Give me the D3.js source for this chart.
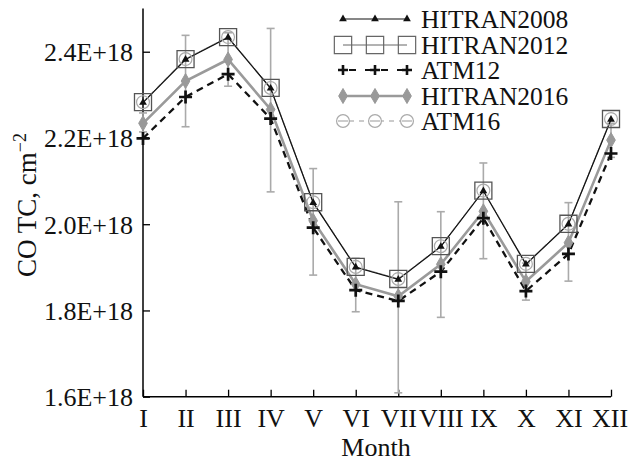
<!DOCTYPE html>
<html><head><meta charset="utf-8">
<script src="https://cdn.jsdelivr.net/npm/d3@7"></script>
<style>
html,body{margin:0;padding:0;background:#fff;}
svg{display:block;font-family:"Liberation Serif","Times New Roman",serif;}
</style></head>
<body>
<svg id="chart" width="628" height="463"></svg>
<script>
const months = ["I","II","III","IV","V","VI","VII","VIII","IX","X","XI","XII"];
const hitran2008 = [2.282, 2.382, 2.433, 2.315, 2.050, 1.900, 1.872, 1.948, 2.077, 1.907, 2.000, 2.243];
const hitran2012 = [2.283, 2.383, 2.434, 2.316, 2.051, 1.901, 1.873, 1.949, 2.078, 1.908, 2.001, 2.244];
const atm12      = [2.199, 2.295, 2.348, 2.245, 1.992, 1.847, 1.822, 1.890, 2.014, 1.845, 1.931, 2.164];
const hitran2016 = [2.234, 2.332, 2.382, 2.266, 2.008, 1.861, 1.833, 1.907, 2.030, 1.867, 1.957, 2.195];
const atm16      = [2.283, 2.383, 2.434, 2.316, 2.051, 1.901, 1.873, 1.949, 2.078, 1.908, 2.001, 2.244];
const errLow  = [2.214, 2.226, 2.320, 2.075, 1.882, 1.797, 1.609, 1.784, 1.920, 1.824, 1.868, 2.155];
const errHigh = [2.258, 2.438, 2.444, 2.454, 2.129, 1.921, 2.052, 2.029, 2.142, 1.910, 2.050, 2.234];
const yTicks = [1.6, 1.8, 2.0, 2.2, 2.4];
const yTickLabels = ["1.6E+18","1.8E+18","2.0E+18","2.2E+18","2.4E+18"];
const seriesNames = ["HITRAN2008","HITRAN2012","ATM12","HITRAN2016","ATM16"];

const svg = d3.select("#chart");
const x = d3.scalePoint().domain(months).range([143, 611]).padding(0);
const y = d3.scaleLinear().domain([1.6, 2.5]).range([396.7, 8.6]);
const FS = 26;

// axes
const yAxis = d3.axisLeft(y).tickValues(yTicks).tickSize(-7).tickPadding(10)
  .tickFormat((d,i)=>yTickLabels[i]);
const gy = svg.append("g").attr("transform","translate(143,0)").call(yAxis);
gy.select(".domain").attr("d","M0,"+y(2.5)+"V"+y(1.6)).attr("stroke","#000").attr("stroke-width",1.5);
gy.selectAll(".tick line").attr("stroke","#000").attr("stroke-width",1.3);
gy.selectAll(".tick text").attr("font-size",FS).attr("fill","#111").attr("font-family","Liberation Serif").attr("dy","0.34em");

const xAxis = d3.axisBottom(x).tickSize(-7).tickPadding(17);
const gx = svg.append("g").attr("transform","translate(0,396.7)").call(xAxis);
gx.select(".domain").attr("d","M143,0H611").attr("stroke","#000").attr("stroke-width",1.5);
gx.selectAll(".tick line").attr("stroke","#000").attr("stroke-width",1.3);
gx.selectAll(".tick text").attr("font-size",FS).attr("fill","#111").attr("font-family","Liberation Serif").attr("dy","0.5em")
  .attr("dx",d=>d==="XII"?-1.5:0);

svg.append("text").attr("x",376).attr("y",456).attr("text-anchor","middle")
  .attr("font-size",FS).attr("fill","#111").text("Month");
const yl = svg.append("text").attr("transform","translate(36,205) rotate(-90)")
  .attr("text-anchor","middle").attr("font-size",FS+1).attr("fill","#111");
yl.append("tspan").text("CO TC, cm");
yl.append("tspan").attr("dy",-10).attr("font-size",18).text("\u22122");

const plot = svg.append("g");
// error bars
months.forEach((m,i)=>{
  const g = plot.append("g").attr("stroke","#aaa").attr("stroke-width",1.6);
  g.append("line").attr("x1",x(m)).attr("x2",x(m)).attr("y1",y(errLow[i])).attr("y2",y(errHigh[i]));
  g.append("line").attr("x1",x(m)-4).attr("x2",x(m)+4).attr("y1",y(errLow[i])).attr("y2",y(errLow[i]));
  g.append("line").attr("x1",x(m)-4).attr("x2",x(m)+4).attr("y1",y(errHigh[i])).attr("y2",y(errHigh[i]));
});

const line = d3.line().x((d,i)=>x(months[i])).y(d=>y(d));
plot.append("path").attr("d",line(hitran2012)).attr("fill","none").attr("stroke","#666").attr("stroke-width",1);
plot.append("path").attr("d",line(atm16)).attr("fill","none").attr("stroke","#bbb").attr("stroke-width",1.5).attr("stroke-dasharray","5,5");
plot.append("path").attr("d",line(hitran2016)).attr("fill","none").attr("stroke","#9a9a9a").attr("stroke-width",2.6);
plot.append("path").attr("d",line(atm12)).attr("fill","none").attr("stroke","#111").attr("stroke-width",2.3).attr("stroke-dasharray","7,5");
plot.append("path").attr("d",line(hitran2008)).attr("fill","none").attr("stroke","#111").attr("stroke-width",1.2);

const sym = {
  square: d3.symbol().type(d3.symbolSquare).size(290)(),
  circle: d3.symbol().type(d3.symbolCircle).size(130)(),
  diamond: d3.symbol().type(d3.symbolDiamond).size(65)(),
  plus: "M-6.5,0H6.5M0,-6.5V6.5",
  tri: d3.symbol().type(d3.symbolTriangle).size(26)()
};
function drawMarkers(g, cx, cy, kind){
  if(kind==="square") g.append("path").attr("d",sym.square).attr("transform",`translate(${cx},${cy})`).attr("fill","none").attr("stroke","#555").attr("stroke-width",1.3);
  if(kind==="circle") g.append("path").attr("d",sym.circle).attr("transform",`translate(${cx},${cy})`).attr("fill","none").attr("stroke","#aaa").attr("stroke-width",1.2);
  if(kind==="diamond") g.append("path").attr("d",sym.diamond).attr("transform",`translate(${cx},${cy})`).attr("fill","#999").attr("stroke","#999");
  if(kind==="plus") g.append("path").attr("d",sym.plus).attr("transform",`translate(${cx},${cy})`).attr("stroke","#111").attr("stroke-width",2.7);
  if(kind==="tri") g.append("path").attr("d",sym.tri).attr("transform",`translate(${cx},${cy})`).attr("fill","#111");
}
const mk = plot.append("g");
hitran2012.forEach((v,i)=>drawMarkers(mk, x(months[i]), y(v), "square"));
atm16.forEach((v,i)=>drawMarkers(mk, x(months[i]), y(v), "circle"));
hitran2016.forEach((v,i)=>drawMarkers(mk, x(months[i]), y(v), "diamond"));
atm12.forEach((v,i)=>drawMarkers(mk, x(months[i]), y(v), "plus"));
hitran2008.forEach((v,i)=>drawMarkers(mk, x(months[i]), y(v), "tri"));

// legend
const legRows = [19, 45, 70, 96, 121];
const legStyles = [
  {stroke:"#111", w:1.2, dash:null, kind:"tri"},
  {stroke:"#666", w:1, dash:null, kind:"square"},
  {stroke:"#111", w:2.2, dash:"7,9", kind:"plus"},
  {stroke:"#9a9a9a", w:2.6, dash:null, kind:"diamond"},
  {stroke:"#bbb", w:1.5, dash:"5,5", kind:"circle"}
];
const lg = svg.append("g");
seriesNames.forEach((name,i)=>{
  const cy = legRows[i], st = legStyles[i];
  const l = lg.append("line").attr("x1",343).attr("x2",407).attr("y1",cy).attr("y2",cy)
    .attr("stroke",st.stroke).attr("stroke-width",st.w);
  if(st.dash) l.attr("stroke-dasharray",st.dash).attr("stroke-dashoffset",-6);
  [343,375,407].forEach(cx=>{
    if(st.kind==="square") lg.append("path").attr("d",d3.symbol().type(d3.symbolSquare).size(300)()).attr("transform",`translate(${cx},${cy})`).attr("fill","none").attr("stroke","#666").attr("stroke-width",1.2);
    else if(st.kind==="plus") lg.append("path").attr("d","M-5,0H5M0,-5V5").attr("transform",`translate(${cx},${cy})`).attr("stroke","#111").attr("stroke-width",2.6);
    else if(st.kind==="circle") lg.append("path").attr("d",sym.circle).attr("transform",`translate(${cx},${cy})`).attr("fill","#fff").attr("stroke","#aaa").attr("stroke-width",1.2);
    else drawMarkers(lg, cx, cy, st.kind);
  });
  if(st.kind==="circle") [343,375,407].forEach(cx=>lg.append("line").attr("x1",cx-5).attr("x2",cx+5).attr("y1",cy).attr("y2",cy).attr("stroke","#aaa").attr("stroke-width",1.2));
  lg.append("text").attr("x",421).attr("y",cy+9).attr("font-size",25.5).attr("fill","#111").text(name);
});
</script>
</body></html>
